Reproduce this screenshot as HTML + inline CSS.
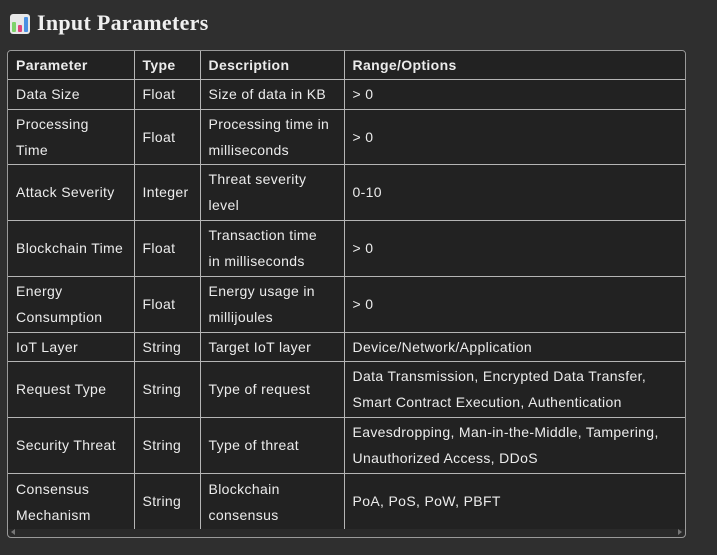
<!DOCTYPE html>
<html><head><meta charset="utf-8"><style>
*{margin:0;padding:0;box-sizing:border-box}
body{width:717px;height:555px;background:#2f2f2f;font-family:"Liberation Sans",sans-serif;color:#ececec;position:relative;overflow:hidden}
h1{position:absolute;left:37px;top:10px;font-family:"Liberation Serif",serif;font-size:22px;font-weight:bold;color:#f0f0f0;letter-spacing:0.3px}
.ic{position:absolute;left:10px;top:14px;width:20px;height:20px;background:#e8e8e8;border-radius:3px}
.ic i{position:absolute;bottom:2px;width:4px;border-radius:1px}
.wrap{position:absolute;left:7px;top:50px;width:679px;height:488px;border:1px solid #9a9a9a;border-radius:4px;background:#2a2a2a;overflow:hidden}
table{position:absolute;left:0;top:0;border-collapse:collapse;table-layout:fixed;width:679px;background:#222}
td,th{border:1px solid #b5b5b5;padding:0 8px;font-size:14px;line-height:26px;text-align:left;vertical-align:middle;white-space:nowrap;letter-spacing:0.35px}
th{font-weight:bold;height:28px;border-top:none}
td:first-child,th:first-child{border-left:none}
td:last-child,th:last-child{border-right:none}
tr:last-child td{border-bottom:none}
.s{position:absolute;bottom:2px;width:0;height:0;border-top:3px solid transparent;border-bottom:3px solid transparent}
</style></head><body>
<div class="ic"><i style="left:2px;height:10px;background:#7ed36a"></i><i style="left:8px;height:7px;background:#e0457b"></i><i style="left:14px;height:15px;background:#4a90e2"></i></div>
<h1>Input Parameters</h1>
<div class="wrap">
<table>
<colgroup><col style="width:126px"><col style="width:66px"><col style="width:144px"><col style="width:343px"></colgroup>
<tr><th>Parameter</th><th>Type</th><th>Description</th><th>Range/Options</th></tr>
<tr style="height:30px"><td>Data Size</td><td>Float</td><td>Size of data in KB</td><td>&gt; 0</td></tr>
<tr style="height:55px"><td>Processing<br>Time</td><td>Float</td><td>Processing time in<br>milliseconds</td><td>&gt; 0</td></tr>
<tr style="height:56px"><td>Attack Severity</td><td>Integer</td><td>Threat severity<br>level</td><td>0-10</td></tr>
<tr style="height:56px"><td>Blockchain Time</td><td>Float</td><td>Transaction time<br>in milliseconds</td><td>&gt; 0</td></tr>
<tr style="height:56px"><td>Energy<br>Consumption</td><td>Float</td><td>Energy usage in<br>millijoules</td><td>&gt; 0</td></tr>
<tr style="height:29px"><td>IoT Layer</td><td>String</td><td>Target IoT layer</td><td>Device/Network/Application</td></tr>
<tr style="height:56px"><td>Request Type</td><td>String</td><td>Type of request</td><td>Data Transmission, Encrypted Data Transfer,<br>Smart Contract Execution, Authentication</td></tr>
<tr style="height:56px"><td>Security Threat</td><td>String</td><td>Type of threat</td><td>Eavesdropping, Man-in-the-Middle, Tampering,<br>Unauthorized Access, DDoS</td></tr>
<tr style="height:56px"><td style="vertical-align:top;padding-top:2px">Consensus<br>Mechanism</td><td>String</td><td style="vertical-align:top;padding-top:2px">Blockchain<br>consensus</td><td>PoA, PoS, PoW, PBFT</td></tr>
</table>
<div class="s" style="left:3px;border-right:4px solid #777"></div>
<div class="s" style="right:3px;border-left:4px solid #777"></div>
</div>
</body></html>
